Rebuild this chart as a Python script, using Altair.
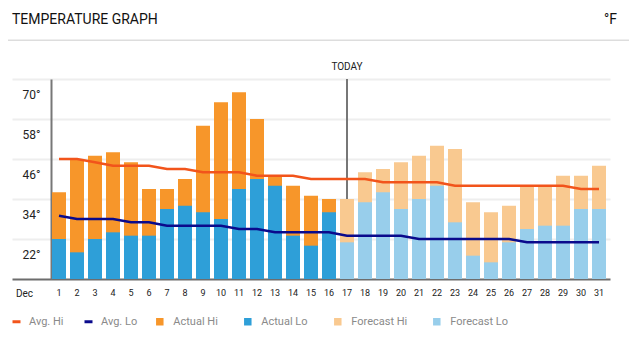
import altair as alt
import pandas as pd

# ---- data ----
month = "Dec"
days = list(range(1, 32))
today = 17
hi_temps = [36, 46, 47, 48, 45, 37, 37, 40, 56, 63, 66, 58, 41, 38, 35, 34,
            34, 42, 43, 45, 47, 50, 49, 33, 30, 32, 38, 38, 41, 41, 44]
lo_temps = [22, 18, 22, 24, 23, 23, 31, 32, 30, 28, 37, 40, 38, 23, 20, 30,
            21, 33, 36, 31, 34, 38, 27, 17, 15, 21, 25, 26, 26, 31, 31]
avg_hi = [46, 46, 45, 44, 44, 44, 43, 43, 42, 42, 42, 41, 41, 41, 40, 40,
          40, 40, 39, 39, 39, 39, 38, 38, 38, 38, 38, 38, 38, 37, 37]
avg_lo = [29, 28, 28, 28, 27, 27, 26, 26, 26, 26, 25, 25, 24, 24, 24, 24,
          23, 23, 23, 23, 22, 22, 22, 22, 22, 22, 21, 21, 21, 21, 21]
y_ticks = [22, 34, 46, 58, 70]
y_min, y_max = 10, 70
title_text = "TEMPERATURE GRAPH"
unit_text = "°F"
today_text = "TODAY"
bar_cats = ["Actual Hi", "Actual Lo", "Forecast Hi", "Forecast Lo"]
bar_colors = ["#F7962A", "#2E9FD8", "#F9C990", "#98CEEB"]
line_cats = ["Avg. Hi", "Avg. Lo"]
line_colors = ["#F2541B", "#0A0A8C"]

# ---- tables ----
hi_df = pd.DataFrame({
    "day": days, "value": hi_temps,
    "cat": ["Actual Hi" if d < today else "Forecast Hi" for d in days]})
lo_df = pd.DataFrame({
    "day": days, "value": lo_temps,
    "cat": ["Actual Lo" if d < today else "Forecast Lo" for d in days]})
line_df = pd.DataFrame({
    "day": days * 2, "value": avg_hi + avg_lo,
    "series": ["Avg. Hi"] * len(days) + ["Avg. Lo"] * len(days)})
today_df = pd.DataFrame({"day": [today], "label": [today_text]})

FONT = "Roboto"
W, H = 598, 200

x_scale = alt.Scale(domain=days, paddingInner=0.2222, paddingOuter=1, align=0.9, round=True)
y_scale = alt.Scale(domain=[y_min, y_max], nice=False, zero=False)

x_axis = alt.Axis(title=month, titleX=12, titleY=14, titleAlign="center",
                  titleBaseline="middle", titleFontSize=10, titleFontWeight="normal",
                  titleColor="#222", titleFont=FONT,
                  labelAngle=0, labelFontSize=9, labelColor="#222", labelFont=FONT,
                  labelPadding=13, labelBaseline="middle",
                  ticks=False, tickSize=0, domainColor="#6d6d6d", domainWidth=2,
                  grid=False)
y_axis = alt.Axis(values=y_ticks, labelExpr="datum.value + '°'", offset=-39,
                  domainColor="#777777", domainWidth=2, ticks=False, tickSize=0,
                  labelPadding=11, labelOffset=15, labelFontSize=12, labelColor="#222",
                  labelFont=FONT, gridColor="#eeeeee", gridWidth=2, title=None)

X = alt.X("day:O", scale=x_scale, axis=x_axis)
Y = alt.Y("value:Q", scale=y_scale, axis=y_axis)

fill_legend = alt.Legend(title=None, orient="none", legendX=142.3, legendY=237,
                         direction="horizontal", symbolType="square", symbolSize=56,
                         labelFont=FONT, labelFontSize=11, labelColor="#8a8a8a",
                         columnPadding=24, labelOffset=8, padding=0)
stroke_legend = alt.Legend(title=None, orient="none", legendX=-1, legendY=237,
                           direction="horizontal", symbolType="stroke", symbolSize=64,
                           symbolStrokeWidth=3, labelFont=FONT, labelFontSize=11,
                           labelColor="#8a8a8a", columnPadding=14, labelOffset=7,
                           padding=0)
fill_enc = alt.Fill("cat:N", scale=alt.Scale(domain=bar_cats, range=bar_colors),
                    legend=fill_legend)

today_rule = alt.Chart(today_df).mark_rule(color="#777777", strokeWidth=2).encode(x=X)

hi_bars = alt.Chart(hi_df).mark_bar().encode(x=X, y=Y, y2=alt.datum(y_min), fill=fill_enc)
lo_bars = alt.Chart(lo_df).mark_bar().encode(x=X, y=Y, y2=alt.datum(y_min), fill=fill_enc)

lines = alt.Chart(line_df).mark_line(strokeWidth=2.5).encode(
    x=X, y=Y,
    stroke=alt.Stroke("series:N", scale=alt.Scale(domain=line_cats, range=line_colors),
                      legend=stroke_legend))

today_lbl = alt.Chart(today_df).mark_text(font=FONT, fontSize=10, color="#222",
                                          baseline="middle").encode(
    x=X, y=alt.value(-12), text="label:N")

title_lbl = alt.Chart(pd.DataFrame({"t": [title_text]})).mark_text(
    font=FONT, fontSize=14, color="#111", align="left",
    baseline="middle").encode(x=alt.value(0), y=alt.value(-59), text="t:N")
unit_lbl = alt.Chart(pd.DataFrame({"t": [unit_text]})).mark_text(
    font=FONT, fontSize=14, color="#111", align="right",
    baseline="middle").encode(x=alt.value(605), y=alt.value(-59), text="t:N")
sep = alt.Chart(pd.DataFrame({"a": [0]})).mark_rule(color="#dddddd", strokeWidth=1.5).encode(
    x=alt.value(-4), x2=alt.value(617), y=alt.value(-38.8))

chart = alt.layer(today_rule, hi_bars, lo_bars, lines, today_lbl, title_lbl,
                  unit_lbl, sep).properties(
    width=W, height=H,
    padding={"left": 4, "top": 71, "right": 19, "bottom": 67},
    autosize=alt.AutoSizeParams(type="none"),
    background="white",
).configure_view(stroke=None)

chart.save("out.html", embed_options={"renderer": "svg", "actions": False})
